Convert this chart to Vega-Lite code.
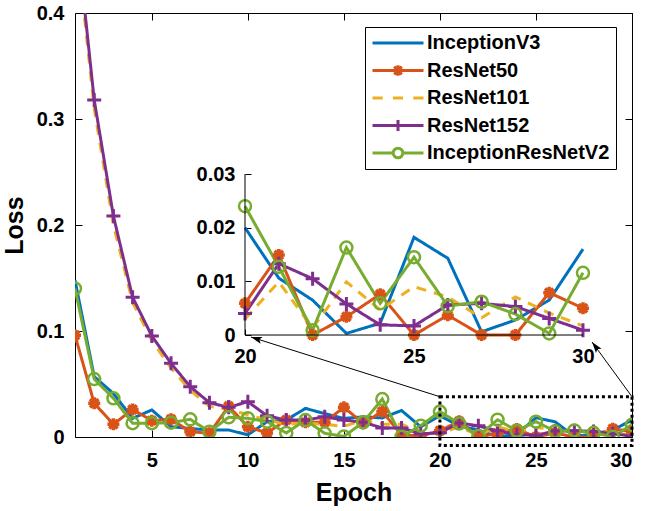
{
 "$schema": "https://vega.github.io/schema/vega-lite/v6.json",
 "width": 557, "height": 424,
 "autosize": {"type": "none"},
 "padding": {"left": 75, "top": 13, "right": 14, "bottom": 74},
 "datasets": {
  "loss": [
   {"epoch":1,"model":"InceptionV3","loss":0.148},{"epoch":2,"model":"InceptionV3","loss":0.057},{"epoch":3,"model":"InceptionV3","loss":0.041},{"epoch":4,"model":"InceptionV3","loss":0.0176},{"epoch":5,"model":"InceptionV3","loss":0.0255},{"epoch":6,"model":"InceptionV3","loss":0.0097},{"epoch":7,"model":"InceptionV3","loss":0.008},{"epoch":8,"model":"InceptionV3","loss":0.0066},{"epoch":9,"model":"InceptionV3","loss":0.0066},{"epoch":10,"model":"InceptionV3","loss":0.002},{"epoch":11,"model":"InceptionV3","loss":0.0145},{"epoch":12,"model":"InceptionV3","loss":0.016},{"epoch":13,"model":"InceptionV3","loss":0.027},{"epoch":14,"model":"InceptionV3","loss":0.022},{"epoch":15,"model":"InceptionV3","loss":0.0176},{"epoch":16,"model":"InceptionV3","loss":0.019},{"epoch":17,"model":"InceptionV3","loss":0.018},{"epoch":18,"model":"InceptionV3","loss":0.025},{"epoch":19,"model":"InceptionV3","loss":0.0097},{"epoch":20,"model":"InceptionV3","loss":0.020},{"epoch":21,"model":"InceptionV3","loss":0.0106},{"epoch":22,"model":"InceptionV3","loss":0.0065},{"epoch":23,"model":"InceptionV3","loss":0.0003},{"epoch":24,"model":"InceptionV3","loss":0.0022},{"epoch":25,"model":"InceptionV3","loss":0.0182},{"epoch":26,"model":"InceptionV3","loss":0.0143},{"epoch":27,"model":"InceptionV3","loss":0.0006},{"epoch":28,"model":"InceptionV3","loss":0.0028},{"epoch":29,"model":"InceptionV3","loss":0.0065},{"epoch":30,"model":"InceptionV3","loss":0.016},
   {"epoch":1,"model":"ResNet50","loss":0.096},{"epoch":2,"model":"ResNet50","loss":0.0318},{"epoch":3,"model":"ResNet50","loss":0.012},{"epoch":4,"model":"ResNet50","loss":0.026},{"epoch":5,"model":"ResNet50","loss":0.0154},{"epoch":6,"model":"ResNet50","loss":0.0167},{"epoch":7,"model":"ResNet50","loss":0.005},{"epoch":8,"model":"ResNet50","loss":0.0035},{"epoch":9,"model":"ResNet50","loss":0.029},{"epoch":10,"model":"ResNet50","loss":0.0097},{"epoch":11,"model":"ResNet50","loss":0.0038},{"epoch":12,"model":"ResNet50","loss":0.016},{"epoch":13,"model":"ResNet50","loss":0.0138},{"epoch":14,"model":"ResNet50","loss":0.014},{"epoch":15,"model":"ResNet50","loss":0.028},{"epoch":16,"model":"ResNet50","loss":0.013},{"epoch":17,"model":"ResNet50","loss":0.024},{"epoch":18,"model":"ResNet50","loss":0.002},{"epoch":19,"model":"ResNet50","loss":0.001},{"epoch":20,"model":"ResNet50","loss":0.0059},{"epoch":21,"model":"ResNet50","loss":0.0149},{"epoch":22,"model":"ResNet50","loss":0},{"epoch":23,"model":"ResNet50","loss":0.0034},{"epoch":24,"model":"ResNet50","loss":0.0076},{"epoch":25,"model":"ResNet50","loss":0},{"epoch":26,"model":"ResNet50","loss":0.0037},{"epoch":27,"model":"ResNet50","loss":0},{"epoch":28,"model":"ResNet50","loss":0},{"epoch":29,"model":"ResNet50","loss":0.0079},{"epoch":30,"model":"ResNet50","loss":0.005},
   {"epoch":1,"model":"ResNet101","loss":0.48},{"epoch":2,"model":"ResNet101","loss":0.31},{"epoch":3,"model":"ResNet101","loss":0.2},{"epoch":4,"model":"ResNet101","loss":0.127},{"epoch":5,"model":"ResNet101","loss":0.091},{"epoch":6,"model":"ResNet101","loss":0.065},{"epoch":7,"model":"ResNet101","loss":0.044},{"epoch":8,"model":"ResNet101","loss":0.029},{"epoch":9,"model":"ResNet101","loss":0.026},{"epoch":10,"model":"ResNet101","loss":0.021},{"epoch":11,"model":"ResNet101","loss":0.016},{"epoch":12,"model":"ResNet101","loss":0.012},{"epoch":13,"model":"ResNet101","loss":0.013},{"epoch":14,"model":"ResNet101","loss":0.012},{"epoch":15,"model":"ResNet101","loss":0.01},{"epoch":16,"model":"ResNet101","loss":0.016},{"epoch":17,"model":"ResNet101","loss":0.012},{"epoch":18,"model":"ResNet101","loss":0.012},{"epoch":19,"model":"ResNet101","loss":0.005},{"epoch":20,"model":"ResNet101","loss":0.003},{"epoch":21,"model":"ResNet101","loss":0.0099},{"epoch":22,"model":"ResNet101","loss":0.0013},{"epoch":23,"model":"ResNet101","loss":0.0099},{"epoch":24,"model":"ResNet101","loss":0.0047},{"epoch":25,"model":"ResNet101","loss":0.009},{"epoch":26,"model":"ResNet101","loss":0.0071},{"epoch":27,"model":"ResNet101","loss":0.0032},{"epoch":28,"model":"ResNet101","loss":0.0071},{"epoch":29,"model":"ResNet101","loss":0.0041},{"epoch":30,"model":"ResNet101","loss":0.0017},
   {"epoch":1,"model":"ResNet152","loss":0.49},{"epoch":2,"model":"ResNet152","loss":0.318},{"epoch":3,"model":"ResNet152","loss":0.2085},{"epoch":4,"model":"ResNet152","loss":0.1318},{"epoch":5,"model":"ResNet152","loss":0.0953},{"epoch":6,"model":"ResNet152","loss":0.0695},{"epoch":7,"model":"ResNet152","loss":0.0475},{"epoch":8,"model":"ResNet152","loss":0.0324},{"epoch":9,"model":"ResNet152","loss":0.028},{"epoch":10,"model":"ResNet152","loss":0.0333},{"epoch":11,"model":"ResNet152","loss":0.02},{"epoch":12,"model":"ResNet152","loss":0.016},{"epoch":13,"model":"ResNet152","loss":0.016},{"epoch":14,"model":"ResNet152","loss":0.019},{"epoch":15,"model":"ResNet152","loss":0.016},{"epoch":16,"model":"ResNet152","loss":0.014},{"epoch":17,"model":"ResNet152","loss":0.0085},{"epoch":18,"model":"ResNet152","loss":0.0085},{"epoch":19,"model":"ResNet152","loss":0.003},{"epoch":20,"model":"ResNet152","loss":0.004},{"epoch":21,"model":"ResNet152","loss":0.0133},{"epoch":22,"model":"ResNet152","loss":0.0105},{"epoch":23,"model":"ResNet152","loss":0.0058},{"epoch":24,"model":"ResNet152","loss":0.0019},{"epoch":25,"model":"ResNet152","loss":0.0017},{"epoch":26,"model":"ResNet152","loss":0.0056},{"epoch":27,"model":"ResNet152","loss":0.0059},{"epoch":28,"model":"ResNet152","loss":0.0053},{"epoch":29,"model":"ResNet152","loss":0.0031},{"epoch":30,"model":"ResNet152","loss":0.0009},
   {"epoch":1,"model":"InceptionResNetV2","loss":0.140},{"epoch":2,"model":"InceptionResNetV2","loss":0.0547},{"epoch":3,"model":"InceptionResNetV2","loss":0.0365},{"epoch":4,"model":"InceptionResNetV2","loss":0.013},{"epoch":5,"model":"InceptionResNetV2","loss":0.013},{"epoch":6,"model":"InceptionResNetV2","loss":0.0135},{"epoch":7,"model":"InceptionResNetV2","loss":0.0167},{"epoch":8,"model":"InceptionResNetV2","loss":0.005},{"epoch":9,"model":"InceptionResNetV2","loss":0.0186},{"epoch":10,"model":"InceptionResNetV2","loss":0.0176},{"epoch":11,"model":"InceptionResNetV2","loss":0.0145},{"epoch":12,"model":"InceptionResNetV2","loss":0.0038},{"epoch":13,"model":"InceptionResNetV2","loss":0.016},{"epoch":14,"model":"InceptionResNetV2","loss":0.0035},{"epoch":15,"model":"InceptionResNetV2","loss":0.0005},{"epoch":16,"model":"InceptionResNetV2","loss":0.0138},{"epoch":17,"model":"InceptionResNetV2","loss":0.0358},{"epoch":18,"model":"InceptionResNetV2","loss":0.0003},{"epoch":19,"model":"InceptionResNetV2","loss":0.0107},{"epoch":20,"model":"InceptionResNetV2","loss":0.024},{"epoch":21,"model":"InceptionResNetV2","loss":0.0127},{"epoch":22,"model":"InceptionResNetV2","loss":0.0009},{"epoch":23,"model":"InceptionResNetV2","loss":0.0163},{"epoch":24,"model":"InceptionResNetV2","loss":0.0059},{"epoch":25,"model":"InceptionResNetV2","loss":0.0145},{"epoch":26,"model":"InceptionResNetV2","loss":0.0054},{"epoch":27,"model":"InceptionResNetV2","loss":0.0062},{"epoch":28,"model":"InceptionResNetV2","loss":0.0039},{"epoch":29,"model":"InceptionResNetV2","loss":0.0003},{"epoch":30,"model":"InceptionResNetV2","loss":0.0116}
  ]
 },
 "data": {"name": "loss"},
 "layer": [
  {
   "layer": [
    {
     "mark": {"type": "line", "strokeWidth": 3, "clip": true},
     "encoding": {
      "x": {"field": "epoch", "type": "quantitative", "scale": {"domain": [1, 30], "nice": false, "zero": false},
            "axis": {"orient": "bottom", "values": [5, 10, 15, 20, 25, 30], "tickSize": -7, "labelPadding": 20, "domain": false, "title": "Epoch", "titlePadding": 10}},
      "y": {"field": "loss", "type": "quantitative", "scale": {"domain": [0, 0.4], "nice": false, "zero": false},
            "axis": {"orient": "left", "values": [0, 0.1, 0.2, 0.3, 0.4], "format": ".1~f", "tickSize": -7, "labelPadding": 18, "domain": false, "title": "Loss", "titlePadding": 9}},
      "color": {"field": "model", "type": "nominal", "scale": {"domain": ["InceptionResNetV2", "ResNet152", "ResNet101", "ResNet50", "InceptionV3"], "range": ["#77AC30", "#7E2F8E", "#EDB120", "#D95319", "#0072BD"]}, "legend": null},
      "strokeDash": {"field": "model", "type": "nominal", "scale": {"domain": ["ResNet101", "InceptionResNetV2", "ResNet152", "ResNet50", "InceptionV3"], "range": [[10, 8], [1, 0], [1, 0], [1, 0], [1, 0]]}, "legend": null}
     }
    },
    {
     "transform": [{"filter": "datum.model === 'ResNet50'"}],
     "mark": {"type": "point", "shape": "M0,-1V1M-1,0H1M-0.7,-0.7L0.7,0.7M-0.7,0.7L0.7,-0.7", "size": 144, "strokeWidth": 3.5, "filled": false, "opacity": 1, "color": "#D95319", "clip": true},
     "encoding": {"x": {"field": "epoch", "type": "quantitative"}, "y": {"field": "loss", "type": "quantitative"}}
    },
    {
     "transform": [{"filter": "datum.model === 'ResNet152'"}],
     "mark": {"type": "point", "shape": "M0,-1V1M-1,0H1", "size": 196, "strokeWidth": 3, "filled": false, "opacity": 1, "color": "#7E2F8E", "clip": true},
     "encoding": {"x": {"field": "epoch", "type": "quantitative"}, "y": {"field": "loss", "type": "quantitative"}}
    },
    {
     "transform": [{"filter": "datum.model === 'InceptionResNetV2'"}],
     "mark": {"type": "point", "shape": "circle", "size": 144, "strokeWidth": 2.5, "filled": false, "opacity": 1, "color": "#77AC30", "clip": true},
     "encoding": {"x": {"field": "epoch", "type": "quantitative"}, "y": {"field": "loss", "type": "quantitative"}}
    },
    {
     "data": {"values": [{"x0": 20, "x1": 30, "y0": -0.008, "y1": 0.038}]},
     "mark": {"type": "rect", "fill": "transparent", "stroke": "black", "strokeWidth": 3, "strokeDash": [3, 3], "clip": false},
     "encoding": {"x": {"field": "x0", "type": "quantitative"}, "x2": {"field": "x1"}, "y": {"field": "y0", "type": "quantitative"}, "y2": {"field": "y1"}}
    },
    {
     "data": {"values": [{"x0": 20, "y0": 0.038, "x1": 10.16, "y1": 0.0943}, {"x0": 30, "y0": 0.038, "x1": 27.92, "y1": 0.0896}]},
     "mark": {"type": "rule", "color": "black", "strokeWidth": 1, "clip": false},
     "encoding": {"x": {"field": "x0", "type": "quantitative"}, "x2": {"field": "x1"}, "y": {"field": "y0", "type": "quantitative"}, "y2": {"field": "y1"}}
    },
    {
     "data": {"values": [{"x": 10.16, "y": 0.0943}]},
     "mark": {"type": "point", "shape": "M0,0L1,3.2L0,2.5L-1,3.2Z", "size": 49, "angle": 287, "filled": true, "color": "black", "opacity": 1, "strokeWidth": 0},
     "encoding": {"x": {"field": "x", "type": "quantitative"}, "y": {"field": "y", "type": "quantitative"}}
    },
    {
     "data": {"values": [{"x": 27.92, "y": 0.0896}]},
     "mark": {"type": "point", "shape": "M0,0L1,3.2L0,2.5L-1,3.2Z", "size": 49, "angle": 323, "filled": true, "color": "black", "opacity": 1, "strokeWidth": 0},
     "encoding": {"x": {"field": "x", "type": "quantitative"}, "y": {"field": "y", "type": "quantitative"}}
    },
    {
     "transform": [{"filter": "datum.epoch === 1"}],
     "mark": {"type": "point", "filled": false, "opacity": 1, "clip": true, "size": 4},
     "encoding": {
      "x": {"datum": 1, "type": "quantitative"},
      "y": {"datum": -1, "type": "quantitative"},
      "shape": {"field": "model", "type": "nominal",
       "scale": {"domain": ["InceptionV3", "ResNet50", "ResNet101", "ResNet152", "InceptionResNetV2"],
                 "range": ["M-1,0H1", "M-1,0H1M0,-0.21V0.21M-0.21,0H0.21M-0.15,-0.15L0.15,0.15M-0.15,0.15L0.15,-0.15", "M-1,0H-0.6M-0.2,0H0.2M0.6,0H1", "M-1,0H1M0,-0.22V0.22", "M-1,0H-0.19M0.19,0H1M-0.19,0A0.19,0.19 0 1,0 0.19,0A0.19,0.19 0 1,0 -0.19,0"]},
       "legend": {"orient": "none", "legendX": 290, "legendY": 14, "title": null, "symbolSize": 2601, "symbolStrokeWidth": 3, "symbolOpacity": 1, "symbolFillColor": "transparent", "clipHeight": 20, "labelFont": "Liberation Sans", "labelFontSize": 20, "labelFontWeight": "bold", "labelColor": "black", "labelOffset": 2, "rowPadding": 7.5, "padding": 6, "strokeColor": "black", "fillColor": "white", "labelLimit": 400}},
      "stroke": {"field": "model", "type": "nominal",
       "scale": {"domain": ["InceptionV3", "ResNet50", "ResNet101", "ResNet152", "InceptionResNetV2"], "range": ["#0072BD", "#D95319", "#EDB120", "#7E2F8E", "#77AC30"]},
       "legend": {"orient": "none", "legendX": 290, "legendY": 14, "title": null, "symbolSize": 2601, "symbolStrokeWidth": 3, "symbolOpacity": 1, "symbolFillColor": "transparent", "clipHeight": 20, "labelFont": "Liberation Sans", "labelFontSize": 20, "labelFontWeight": "bold", "labelColor": "black", "labelOffset": 2, "rowPadding": 7.5, "padding": 6, "strokeColor": "black", "fillColor": "white", "labelLimit": 400}}
     }
    }
   ]
  },
  {
   "mark": {"type": "point", "opacity": 0},
   "encoding": {
    "x": {"field": "epoch", "type": "quantitative", "scale": {"domain": [1, 30], "nice": false, "zero": false},
          "axis": {"orient": "top", "values": [5, 10, 15, 20, 25, 30], "tickSize": -7, "labels": false, "domain": false, "title": null}},
    "y": {"field": "loss", "type": "quantitative", "scale": {"domain": [0, 0.4], "nice": false, "zero": false},
          "axis": {"orient": "right", "values": [0, 0.1, 0.2, 0.3, 0.4], "tickSize": -7, "labels": false, "domain": false, "title": null}}
   }
  },
  {
   "transform": [{"filter": "datum.epoch >= 20"}],
   "layer": [
    {
     "mark": {"type": "line", "strokeWidth": 3},
     "encoding": {
      "x": {"field": "epoch", "type": "quantitative", "scale": {"domain": [14.97, 31.45], "nice": false, "zero": false},
            "axis": {"orient": "bottom", "offset": -102, "values": [20, 25, 30], "tickSize": -6, "labelPadding": 17, "domain": false, "title": null}},
      "y": {"field": "loss", "type": "quantitative", "scale": {"domain": [-0.019, 0.06], "nice": false, "zero": false},
            "axis": {"orient": "left", "offset": -170, "values": [0, 0.01, 0.02, 0.03], "format": ".2~f", "tickSize": -6, "labelPadding": 16, "domain": false, "title": null}},
      "color": {"field": "model", "type": "nominal", "legend": null},
      "strokeDash": {"field": "model", "type": "nominal", "legend": null}
     }
    },
    {
     "transform": [{"filter": "datum.model === 'ResNet50'"}],
     "mark": {"type": "point", "shape": "M0,-1V1M-1,0H1M-0.7,-0.7L0.7,0.7M-0.7,0.7L0.7,-0.7", "size": 144, "strokeWidth": 3.5, "filled": false, "opacity": 1, "color": "#D95319"},
     "encoding": {"x": {"field": "epoch", "type": "quantitative"}, "y": {"field": "loss", "type": "quantitative"}}
    },
    {
     "transform": [{"filter": "datum.model === 'ResNet152'"}],
     "mark": {"type": "point", "shape": "M0,-1V1M-1,0H1", "size": 196, "strokeWidth": 3, "filled": false, "opacity": 1, "color": "#7E2F8E"},
     "encoding": {"x": {"field": "epoch", "type": "quantitative"}, "y": {"field": "loss", "type": "quantitative"}}
    },
    {
     "transform": [{"filter": "datum.model === 'InceptionResNetV2'"}],
     "mark": {"type": "point", "shape": "circle", "size": 144, "strokeWidth": 2.5, "filled": false, "opacity": 1, "color": "#77AC30"},
     "encoding": {"x": {"field": "epoch", "type": "quantitative"}, "y": {"field": "loss", "type": "quantitative"}}
    },
    {
     "data": {"values": [{"x0": 20, "x1": 30, "y0": 0, "y1": 0}, {"x0": 20, "x1": 20, "y0": 0, "y1": 0.03}]},
     "mark": {"type": "rule", "color": "black", "strokeWidth": 1},
     "encoding": {"x": {"field": "x0", "type": "quantitative"}, "x2": {"field": "x1"}, "y": {"field": "y0", "type": "quantitative"}, "y2": {"field": "y1"}}
    }
   ]
  }
 ],
 "resolve": {"scale": {"x": "independent", "y": "independent"}, "axis": {"x": "independent", "y": "independent"}},
 "config": {
  "font": "Liberation Sans",
  "background": "white",
  "view": {"stroke": "black", "strokeWidth": 1},
  "axis": {"grid": false, "labelFont": "Liberation Sans", "labelFontWeight": "bold", "labelFontSize": 20, "labelColor": "black", "titleFont": "Liberation Sans", "titleFontWeight": "bold", "titleFontSize": 25, "titleColor": "black", "tickColor": "black", "tickWidth": 1, "domainColor": "black"}
 }
}
